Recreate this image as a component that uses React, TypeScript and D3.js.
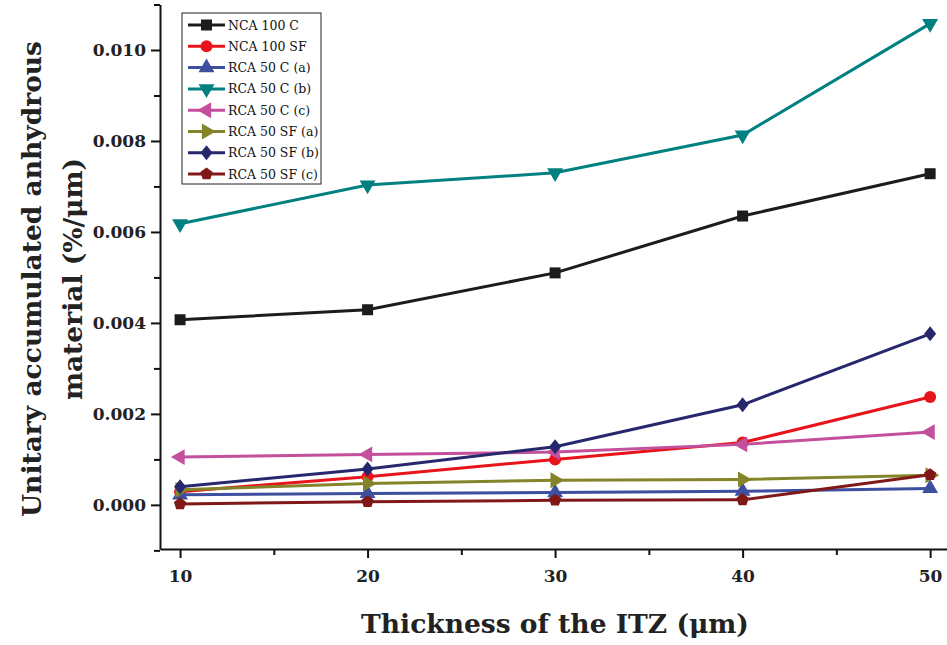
import React, { useRef, useEffect } from 'react';
import * as d3 from 'd3';

const thickness = [10, 20, 30, 40, 50];

const nca100C = [0.00407, 0.00429, 0.0051, 0.00635, 0.00728];
const nca100SF = [0.00029, 0.00062, 0.001, 0.00137, 0.00237];
const rca50Ca = [0.00022, 0.00025, 0.00027, 0.0003, 0.00036];
const rca50Cb = [0.00618, 0.00703, 0.0073, 0.00813, 0.01058];
const rca50Cc = [0.00105, 0.00111, 0.00116, 0.00133, 0.0016];
const rca50SFa = [0.00033, 0.00047, 0.00054, 0.00056, 0.00065];
const rca50SFb = [0.0004, 0.00079, 0.00128, 0.0022, 0.00376];
const rca50SFc = [0.00002, 0.00007, 0.0001, 0.00011, 0.00066];

const yTicks = [0, 0.002, 0.004, 0.006, 0.008, 0.01];
const xTicks = [10, 20, 30, 40, 50];

const series = [
  { name: 'NCA 100 C', values: nca100C, color: '#1c1c1c', marker: 'square' },
  { name: 'NCA 100 SF', values: nca100SF, color: '#e8141c', marker: 'circle' },
  { name: 'RCA 50 C (a)', values: rca50Ca, color: '#3f4fa0', marker: 'up' },
  { name: 'RCA 50 C (b)', values: rca50Cb, color: '#008080', marker: 'down' },
  { name: 'RCA 50 C (c)', values: rca50Cc, color: '#c44f9c', marker: 'left' },
  { name: 'RCA 50 SF (a)', values: rca50SFa, color: '#84842a', marker: 'right' },
  { name: 'RCA 50 SF (b)', values: rca50SFb, color: '#27276e', marker: 'diamond' },
  { name: 'RCA 50 SF (c)', values: rca50SFc, color: '#7f1816', marker: 'pentagon' },
];

const FONT = '"DejaVu Serif", "Liberation Serif", serif';

const drawMarker = (g, type, color) => {
  const tri = d3.symbol().type(d3.symbolTriangle).size(110)();
  if (type === 'square') {
    g.append('rect').attr('x', -5.5).attr('y', -5.5).attr('width', 11).attr('height', 11).attr('fill', color);
  } else if (type === 'circle') {
    g.append('circle').attr('r', 6).attr('fill', color);
  } else if (type === 'diamond') {
    g.append('path').attr('d', 'M0,-7.5L6,0L0,7.5L-6,0Z').attr('fill', color);
  } else if (type === 'pentagon') {
    const pts = d3.range(5).map(i => {
      const a = -Math.PI / 2 + (i * 2 * Math.PI) / 5;
      return [6.5 * Math.cos(a), 6.5 * Math.sin(a)];
    });
    g.append('path').attr('d', d3.line()(pts) + 'Z').attr('fill', color);
  } else {
    const rot = { up: 0, down: 180, left: -90, right: 90 }[type];
    g.append('path').attr('d', tri).attr('transform', `rotate(${rot})`).attr('fill', color);
  }
};

const App = () => {
  const ref = useRef(null);

  useEffect(() => {
    if (!ref.current) return;
    d3.select(ref.current).select('svg').remove();

    const W = 947, H = 645;
    const svg = d3.select(ref.current)
      .append('svg')
      .attr('width', W)
      .attr('height', H)
      .style('display', 'block')
      .style('font-family', FONT);

    const x = d3.scaleLinear().domain([8.93, 50.9]).range([160, 947]);
    const y = d3.scaleLinear().domain([-0.00097, 0.011]).range([549, 4.5]);

    // axes
    const xAxis = svg.append('g')
      .attr('transform', `translate(0,${y.range()[0]})`)
      .call(d3.axisBottom(x).tickValues(xTicks).tickSize(9).tickSizeOuter(0).tickFormat(d3.format('d')));
    svg.append('g')
      .attr('transform', `translate(0,${y.range()[0]})`)
      .call(d3.axisBottom(x).tickValues([15, 25, 35, 45]).tickSize(6).tickSizeOuter(0).tickFormat(() => ''))
      .select('.domain').remove();
    const yAxis = svg.append('g')
      .attr('transform', `translate(${x.range()[0]},0)`)
      .call(d3.axisLeft(y).tickValues(yTicks).tickSize(9).tickSizeOuter(0).tickFormat(d3.format('.3f')));
    svg.append('g')
      .attr('transform', `translate(${x.range()[0]},0)`)
      .call(d3.axisLeft(y).tickValues([-0.001, 0.001, 0.003, 0.005, 0.007, 0.009, 0.011]).tickSize(6).tickFormat(() => ''))
      .select('.domain').remove();

    svg.selectAll('.domain').attr('stroke', '#111').attr('stroke-width', 2);
    svg.selectAll('.tick line').attr('stroke', '#111').attr('stroke-width', 2);
    xAxis.selectAll('.tick text')
      .attr('font-size', 17).attr('font-weight', 'bold').attr('fill', '#222')
      .attr('font-family', FONT).attr('dy', '1.25em');
    yAxis.selectAll('.tick text')
      .attr('font-size', 17).attr('font-weight', 'bold').attr('fill', '#222')
      .attr('font-family', FONT).attr('x', -14);

    // axis titles
    svg.append('text')
      .attr('x', 555).attr('y', 633)
      .attr('text-anchor', 'middle')
      .attr('font-size', 26.5).attr('font-weight', 'bold').attr('fill', '#222')
      .text('Thickness of the ITZ (μm)');
    const yt = svg.append('text')
      .attr('transform', 'translate(0,279) rotate(-90)')
      .attr('text-anchor', 'middle')
      .attr('font-size', 26.5).attr('font-weight', 'bold').attr('fill', '#222');
    yt.append('tspan').attr('x', 0).attr('y', 41).text('Unitary accumulated anhydrous');
    yt.append('tspan').attr('x', 0).attr('y', 82).text('material (%/μm)');

    // lines and markers
    const line = d3.line().x((d, i) => x(thickness[i])).y(d => y(d));
    series.forEach(s => {
      svg.append('path')
        .datum(s.values)
        .attr('fill', 'none')
        .attr('stroke', s.color)
        .attr('stroke-width', 3)
        .attr('d', line);
      s.values.forEach((v, i) => {
        const g = svg.append('g').attr('transform', `translate(${x(thickness[i])},${y(v)})`);
        drawMarker(g, s.marker, s.color);
      });
    });

    // legend
    const lg = svg.append('g').attr('transform', 'translate(182,13)');
    lg.append('rect').attr('width', 139).attr('height', 171)
      .attr('fill', 'white').attr('stroke', '#222').attr('stroke-width', 1);
    series.forEach((s, i) => {
      const row = lg.append('g').attr('transform', `translate(0,${12 + i * 21.3})`);
      row.append('line').attr('x1', 6).attr('x2', 43).attr('stroke', s.color).attr('stroke-width', 3);
      const m = row.append('g').attr('transform', 'translate(24.5,0)');
      drawMarker(m, s.marker, s.color);
      row.append('text').attr('x', 46).attr('y', 4.5)
        .attr('font-size', 12.5).attr('fill', '#111')
        .text(s.name);
    });
  }, []);

  return <div ref={ref} style={{ position: 'absolute', left: 0, top: 0 }}></div>;
};

export default App;
